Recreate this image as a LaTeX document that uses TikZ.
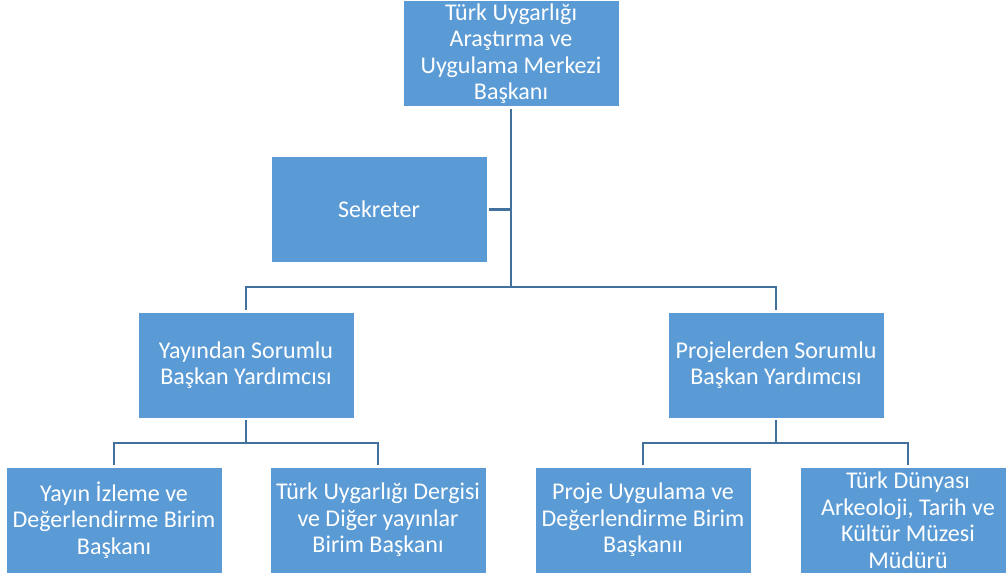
\documentclass[tikz,border=0pt]{standalone}
\usepackage{fontspec}
\setmainfont{Carlito}
\definecolor{boxBlue}{HTML}{5B9BD5}
\definecolor{lineBlue}{HTML}{41719C}
\newcommand{\orgFont}{\fontsize{24}{26.5}\selectfont}

\begin{document}
\begin{tikzpicture}[x=1pt, y=-1pt]
  \tikzset{orgbox/.style={fill=boxBlue, draw=white, line width=0.6pt, text=white, minimum width=216pt, minimum height=106pt, align=center, font=\orgFont, inner sep=0pt, outer sep=2pt},
    conn/.style={draw=lineBlue, line width=2.5pt}}
  \useasboundingbox (0,0) rectangle (1006,581);
  \node[orgbox] (head) at (511,53.5) {Türk Uygarlığı\\Araştırma ve\\Uygulama Merkezi\\Başkanı};
  \node[orgbox] (sec) at (379,209.5) {Sekreter};
  \node[orgbox] (VP-1) at (246,365) {Yayından Sorumlu\\Başkan Yardımcısı};
  \node[orgbox] (VP-2) at (776,365) {Projelerden Sorumlu\\Başkan Yardımcısı};
  \node[orgbox] (unit-1-1) at (114,520) {Yayın İzleme ve\\Değerlendirme Birim\\Başkanı};
  \node[orgbox] (unit-1-2) at (378,520) {Türk Uygarlığı Dergisi\\ve Diğer yayınlar\\Birim Başkanı};
  \node[orgbox] (unit-2-1) at (643,520) {Proje Uygulama ve\\Değerlendirme Birim\\Başkanıı};
  \node[orgbox] (unit-2-2) at (908,520) {Türk Dünyası\\Arkeoloji, Tarih ve\\Kültür Müzesi\\Müdürü};
  \coordinate (bus-0) at (511,287);
  \coordinate (bus-1) at (246,443);
  \coordinate (bus-2) at (776,443);
  \draw[conn] (head.south) -- (bus-0);
  \draw[conn] (sec.east) -- (sec.east -| head.south);
  \draw[conn] (VP-1.north) |- (bus-0) -| (VP-2.north);
  \draw[conn] (VP-1.south) -- (bus-1);
  \draw[conn] (unit-1-1.north) |- (bus-1) -| (unit-1-2.north);
  \draw[conn] (VP-2.south) -- (bus-2);
  \draw[conn] (unit-2-1.north) |- (bus-2) -| (unit-2-2.north);
\end{tikzpicture}
\end{document}
